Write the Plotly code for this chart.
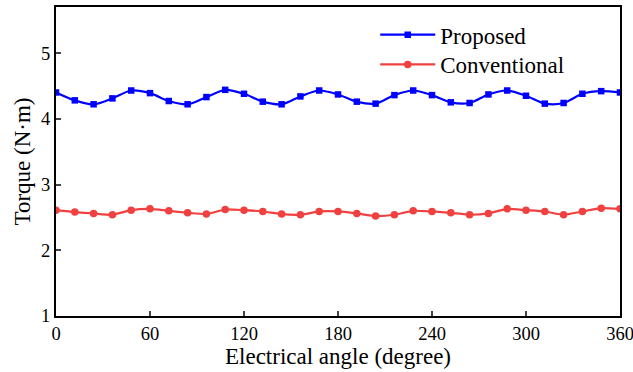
import plotly.graph_objects as go

angles = list(range(0, 361, 12))
proposed = [4.40, 4.28, 4.22, 4.31, 4.43, 4.39, 4.27, 4.22, 4.33, 4.44, 4.38, 4.26, 4.22, 4.34, 4.43, 4.37,
            4.26, 4.23, 4.36, 4.43, 4.36, 4.25, 4.24, 4.37, 4.43, 4.35, 4.23, 4.24, 4.38, 4.42, 4.40]
conventional = [2.61, 2.58, 2.56, 2.54, 2.61, 2.63, 2.60, 2.57, 2.55, 2.62, 2.61, 2.59, 2.55, 2.54, 2.59, 2.59,
                2.56, 2.52, 2.54, 2.60, 2.59, 2.57, 2.54, 2.56, 2.63, 2.61, 2.59, 2.54, 2.59, 2.64, 2.63]
x_ticks = [0, 60, 120, 180, 240, 300, 360]
y_ticks = [1, 2, 3, 4, 5]

font = "Liberation Serif, Times New Roman, serif"

fig = go.Figure()
fig.add_trace(go.Scatter(x=angles, y=proposed, mode="lines+markers", name="Proposed", legend="legend",
                         line=dict(color="#0000ff", width=2.2, shape="spline", smoothing=0.8),
                         marker=dict(symbol="square", size=6.5, color="#0000ff")))
fig.add_trace(go.Scatter(x=angles, y=conventional, mode="lines+markers", name="Conventional", legend="legend2",
                         line=dict(color="#f04040", width=2.2, shape="spline", smoothing=0.5),
                         marker=dict(symbol="circle", size=7.5, color="#f04040")))

leg_common = dict(xanchor="left", yanchor="top", bgcolor="rgba(0,0,0,0)",
                  font=dict(size=23, family=font), itemwidth=55)

fig.update_layout(
    width=633, height=372,
    margin=dict(l=56, r=13, t=7, b=56),
    plot_bgcolor="white", paper_bgcolor="white",
    font=dict(family=font, color="black", size=18.5),
    showlegend=True,
    legend=dict(x=0.566, y=0.98, **leg_common),
    legend2=dict(x=0.566, y=0.8835, **leg_common),
    xaxis=dict(range=[0, 360], tickvals=x_ticks, ticks="inside", ticklen=5, tickwidth=1.5,
               showline=True, linecolor="black", linewidth=2, mirror=True, showgrid=False, zeroline=False,
               title=dict(text="Electrical angle (degree)", font=dict(size=23), standoff=2),
               tickfont=dict(size=18.5), automargin=False, ticklabeloverflow="allow"),
    yaxis=dict(range=[1, 5.7], tickvals=y_ticks, ticks="inside", ticklen=5, tickwidth=1.5,
               showline=True, linecolor="black", linewidth=2, mirror=True, showgrid=False, zeroline=False,
               title=dict(text="Torque (N·m)", font=dict(size=23), standoff=4),
               tickfont=dict(size=18.5), automargin=False, ticklabeloverflow="allow"),
)

fig.write_html("out.html", config={"displayModeBar": False},
               post_script="document.body.style.margin='0';document.body.style.overflow='hidden';")
